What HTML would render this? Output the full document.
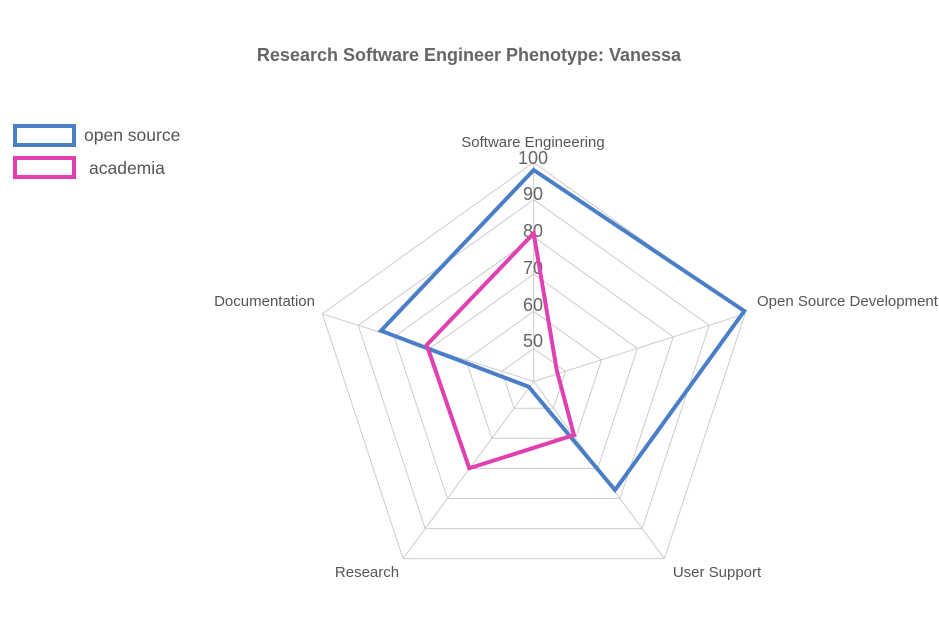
<!DOCTYPE html>
<html><head><meta charset="utf-8"><style>
html,body{margin:0;padding:0;background:#fff;}
svg{display:block;font-family:"Liberation Sans",Arial,sans-serif;}
</style></head><body>
<svg id="s" width="939" height="625" viewBox="0 0 939 625" xmlns="http://www.w3.org/2000/svg">
<text x="469" y="61" text-anchor="middle" font-size="18" font-weight="bold" fill="#666">Research Software Engineer Phenotype: Vanessa</text>
<rect x="15" y="126" width="59" height="19" fill="none" stroke="#4a7fc8" stroke-width="4"/>
<text x="84" y="141" font-size="17.5" fill="#555">open source</text>
<rect x="15" y="158" width="59" height="19" fill="none" stroke="#e040b0" stroke-width="4"/>
<text x="89" y="174" font-size="17.5" fill="#555">academia</text>
<g id="grid" stroke="#cccccc" stroke-width="1" fill="none"></g>
<g font-size="15" fill="#555">
<text x="533" y="147" text-anchor="middle">Software Engineering</text>
<text x="757" y="306">Open Source Development</text>
<text x="315" y="306" text-anchor="end">Documentation</text>
<text x="367" y="577" text-anchor="middle">Research</text>
<text x="717" y="577" text-anchor="middle">User Support</text>
</g>
<g font-size="18" fill="#666" text-anchor="middle">
<text x="533" y="164">100</text>
<text x="533" y="200">90</text>
<text x="533" y="237">80</text>
<text x="533" y="274">70</text>
<text x="533" y="311">60</text>
<text x="533" y="347">50</text>
</g>
<polygon points="533.7,170 744.3,311 615,490 528.7,386.7 381,330.7" fill="none" stroke="#4a7fc8" stroke-width="4" stroke-linejoin="miter"/>
<polygon points="533.7,233.3 556.7,370 574,435 469.3,468.3 426.7,345" fill="none" stroke="#e040b0" stroke-width="4"/>
</svg>
<script>
var g=document.getElementById('grid'),cx=533.7,cy=381.5,ns='http://www.w3.org/2000/svg';
function pt(r,i){var a=-Math.PI/2+i*2*Math.PI/5;return [cx+1.015*r*Math.cos(a),cy+r*Math.sin(a)];}
for(var k=0;k<6;k++){var r=33+37.2*k,p=[];for(var i=0;i<5;i++)p.push(pt(r,i).join(','));
var e=document.createElementNS(ns,'polygon');e.setAttribute('points',p.join(' '));g.appendChild(e);}
for(var i=0;i<5;i++){var q=pt(219,i),l=document.createElementNS(ns,'line');
l.setAttribute('x1',cx);l.setAttribute('y1',cy);l.setAttribute('x2',q[0]);l.setAttribute('y2',q[1]);g.appendChild(l);}
</script>
</body></html>
